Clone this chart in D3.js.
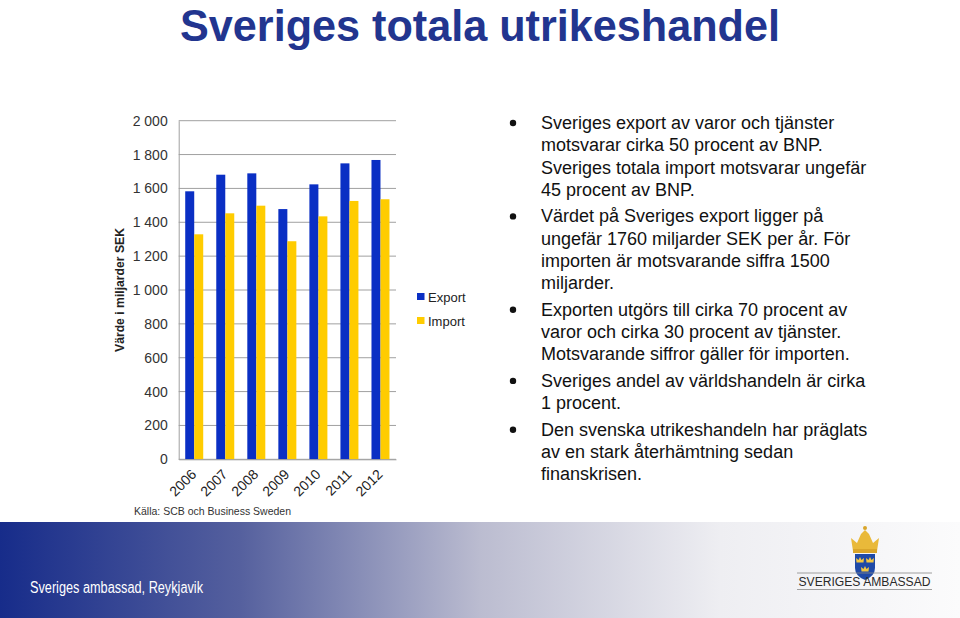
<!DOCTYPE html>
<html><head><meta charset="utf-8">
<script src="https://cdn.jsdelivr.net/npm/d3@7"></script>
<style>
html,body{margin:0;padding:0;background:#fff;}
svg{display:block;}
</style></head>
<body>
<svg id="c" width="960" height="618"></svg>
<script>
// ---- data ----
const years = ["2006","2007","2008","2009","2010","2011","2012"];
const seriesNames = ["Export","Import"];
const exportValues = [1583, 1681, 1689, 1478, 1624, 1748, 1768];
const importValues = [1329, 1453, 1498, 1288, 1435, 1526, 1536];
const yTicks = [0,200,400,600,800,1000,1200,1400,1600,1800,2000];
const titleText = "Sveriges totala utrikeshandel";
const yAxisTitle = "Värde i miljarder SEK";
const sourceText = "Källa: SCB och Business Sweden";
const footerText = "Sveriges ambassad, Reykjavik";
const logoText = "SVERIGES AMBASSAD";
const bullets = [
  ["Sveriges export av varor och tjänster","motsvarar cirka 50 procent av BNP.","Sveriges totala import motsvarar ungefär","45 procent av BNP."],
  ["Värdet på Sveriges export ligger på","ungefär 1760 miljarder SEK per år. För","importen är motsvarande siffra 1500","miljarder."],
  ["Exporten utgörs till cirka 70 procent av","varor och cirka 30 procent av tjänster.","Motsvarande siffror gäller för importen."],
  ["Sveriges andel av världshandeln är cirka","1 procent."],
  ["Den svenska utrikeshandeln har präglats","av en stark återhämtning sedan","finanskrisen."]
];

const colors = {Export:"#0a2fc4", Import:"#ffcc00"};
const svg = d3.select("#c");
const SANS = "'Liberation Sans',Arial,Helvetica,sans-serif";

// ---- footer gradient ----
const defs = svg.append("defs");
const grad = defs.append("linearGradient").attr("id","fg").attr("x1","0").attr("x2","1").attr("y1","0").attr("y2","0");
[[0,"#172c8a"],[0.25,"#55609e"],[0.5,"#bbbcd0"],[0.75,"#eeeef2"],[1,"#fbfbfc"]].forEach(s=>grad.append("stop").attr("offset",s[0]).attr("stop-color",s[1]));
svg.append("rect").attr("x",0).attr("y",522).attr("width",960).attr("height",96).attr("fill","url(#fg)");
svg.append("text").attr("x",30).attr("y",593).attr("fill","#fff")
  .style("font-family",SANS).style("font-size","16px")
  .attr("textLength",173).attr("lengthAdjust","spacingAndGlyphs")
  .text(footerText);

// ---- title (condensed via textLength) ----
svg.append("text").attr("x",180).attr("y",41)
  .attr("fill","#22358f")
  .style("font-family",SANS).style("font-weight","bold").style("font-size","44px")
  .attr("textLength",600).attr("lengthAdjust","spacingAndGlyphs").text(titleText);

// ---- chart ----
const pLeft=178.7, pRight=396, pTop=120.7, pBottom=459.3;
const x = d3.scaleBand().domain(years).range([pLeft,pRight]).paddingInner(0).paddingOuter(0);
const xs = d3.scaleBand().domain(seriesNames).range([0,x.bandwidth()]).paddingInner(0).paddingOuter(0.725);
const y = d3.scaleLinear().domain([0,2000]).range([pBottom,pTop]);
const loc = d3.formatLocale({decimal:",",thousands:"\u00a0",grouping:[3],currency:["","kr"]});
const fmt = loc.format(",d");

const g = svg.append("g");
g.append("g").selectAll("line").data(yTicks).join("line")
  .attr("x1",pLeft).attr("x2",pRight).attr("y1",d=>y(d)).attr("y2",d=>y(d))
  .attr("stroke","#a0a0a0").attr("stroke-width",1);
const yAxis = d3.axisLeft(y).tickValues(yTicks).tickFormat(fmt).tickSize(0).tickPadding(11);
const ya = g.append("g").attr("transform",`translate(${pLeft},0)`).call(yAxis);
ya.select(".domain").attr("stroke","#a0a0a0");
ya.selectAll("text").style("font-family",SANS).style("font-size","14px").attr("fill","#333");

const data = years.map((yr,i)=>({year:yr, Export:exportValues[i], Import:importValues[i]}));
const grp = g.append("g").selectAll("g").data(data).join("g").attr("transform",d=>`translate(${x(d.year)},0)`);
grp.selectAll("rect").data(d=>seriesNames.map(k=>({k, v:d[k]}))).join("rect")
  .attr("x",d=>xs(d.k)).attr("width",xs.bandwidth())
  .attr("y",d=>y(d.v)).attr("height",d=>y(0)-y(d.v)).attr("fill",d=>colors[d.k]);

const xAxis = d3.axisBottom(x).tickSize(0).tickPadding(0);
const xa = g.append("g").attr("transform",`translate(0,${pBottom})`).call(xAxis);
xa.select(".domain").attr("stroke","#a0a0a0");
xa.selectAll("text").attr("text-anchor","end").attr("dy",null).attr("y",0)
  .attr("transform","translate(3,16) rotate(-45)")
  .style("font-family",SANS).style("font-size","14px").attr("fill","#222");

// y title
svg.append("text").attr("transform","translate(124,290) rotate(-90)").attr("text-anchor","middle")
  .style("font-family",SANS).style("font-weight","bold").style("font-size","13.5px")
  .attr("textLength",124).attr("lengthAdjust","spacingAndGlyphs")
  .attr("fill","#222").text(yAxisTitle);

// source
svg.append("text").attr("x",134).attr("y",515)
  .style("font-family",SANS).style("font-size","10.5px").attr("fill","#333").text(sourceText);

// legend
const lg = svg.append("g").selectAll("g").data(seriesNames).join("g")
  .attr("transform",(d,i)=>`translate(417,${293+i*24})`);
lg.append("rect").attr("width",7.5).attr("height",7).attr("fill",d=>colors[d]);
lg.append("text").attr("x",11).attr("y",8.5).text(d=>d)
  .style("font-family",SANS).style("font-size","13px").attr("fill","#222");

// ---- bullets ----
const lineH = 22.3, bulletGap = 26.5;
let by = 129;
const bt = svg.append("g").style("font-family",SANS).style("font-size","18px").attr("fill","#111");
bullets.forEach((lines)=>{
  bt.append("circle").attr("cx",513).attr("cy",by-6).attr("r",3.2).attr("fill","#111");
  lines.forEach((ln,li)=>{
    bt.append("text").attr("x",541).attr("y",by+li*lineH).text(ln);
  });
  by += (lines.length-1)*lineH + bulletGap;
});

// ---- logo ----
const logo = svg.append("g");
logo.append("path").attr("d","M853,551 L851,538 L857,543 L861,534 L865,530 L869,534 L873,543 L879,538 L877,551 Z").attr("fill","#e9b93a");
logo.append("rect").attr("x",853).attr("y",549).attr("width",24).attr("height",4).attr("fill","#d9a52a");
logo.append("circle").attr("cx",865).attr("cy",528).attr("r",2).attr("fill","#d9a52a");
logo.append("path").attr("d","M855,554 L875,554 L875,568 Q875,576 865,580 Q855,576 855,568 Z").attr("fill","#1f4aa8");
[[860,560],[870,560],[865,569]].forEach(p=>{
  logo.append("path").attr("d",`M${p[0]-3.5},${p[1]+2.5} L${p[0]-4},${p[1]-2} L${p[0]-1.5},${p[1]} L${p[0]},${p[1]-3} L${p[0]+1.5},${p[1]} L${p[0]+4},${p[1]-2} L${p[0]+3.5},${p[1]+2.5} Z`).attr("fill","#f2c642");
});
logo.append("line").attr("x1",797).attr("x2",932).attr("y1",573).attr("y2",573).attr("stroke","#888").attr("stroke-width",0.8);
logo.append("line").attr("x1",797).attr("x2",932).attr("y1",589.5).attr("y2",589.5).attr("stroke","#888").attr("stroke-width",0.8);
logo.append("text").attr("x",864.5).attr("y",586).attr("text-anchor","middle")
  .style("font-family",SANS).style("font-size","12.5px").attr("fill","#2a2a2a")
  .attr("textLength",132).attr("lengthAdjust","spacingAndGlyphs").text(logoText);
</script>
</body></html>
